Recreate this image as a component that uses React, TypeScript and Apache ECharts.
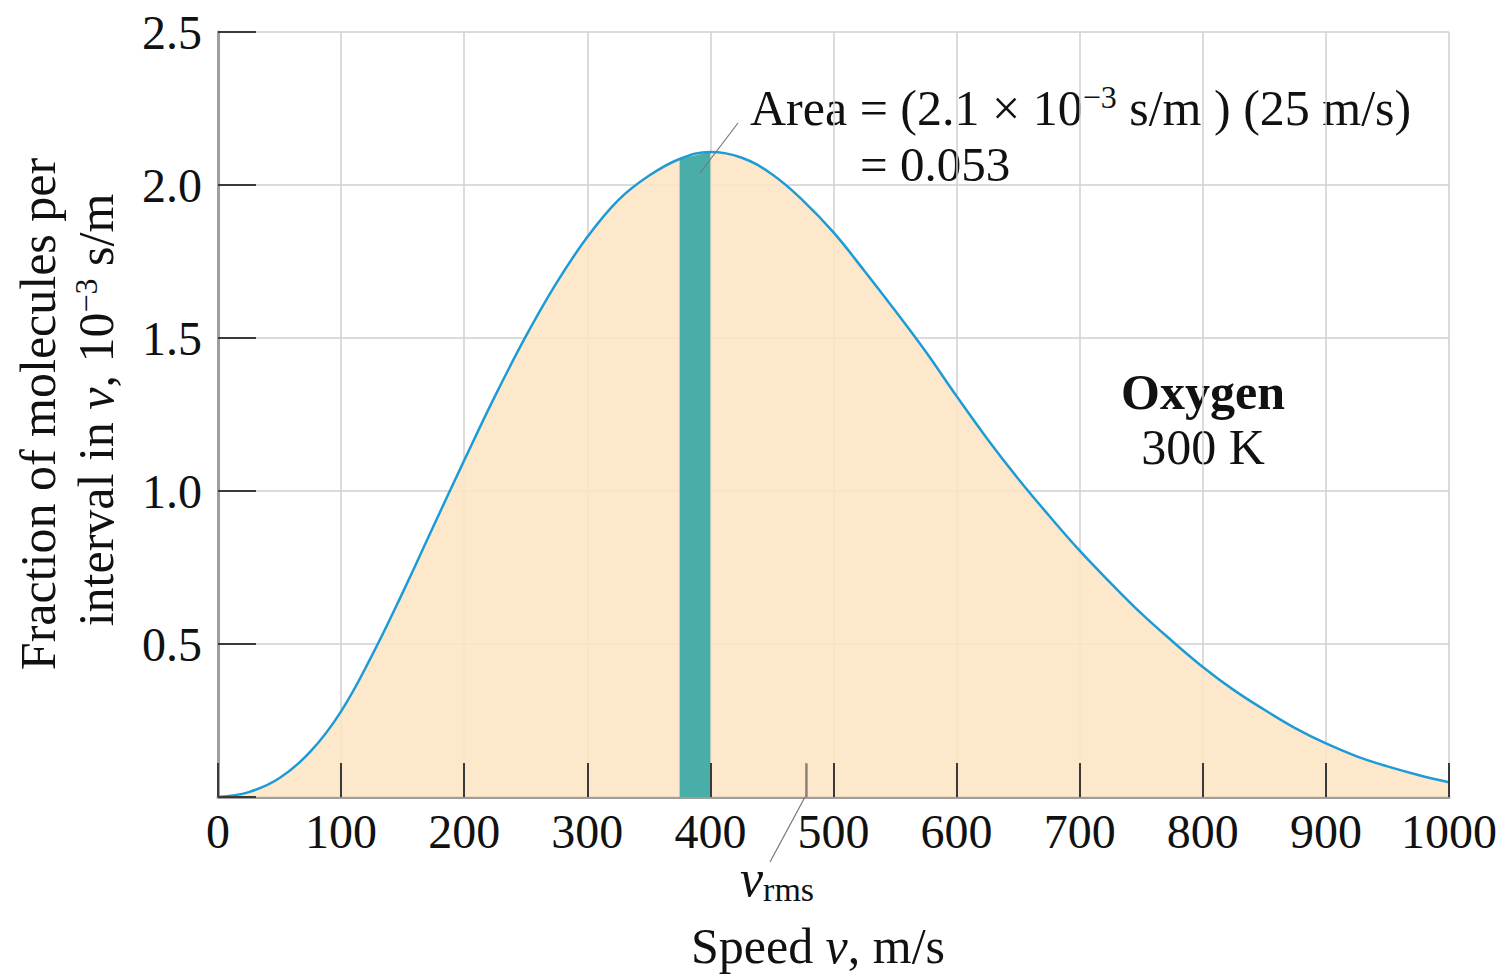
import React, { useEffect, useRef } from "react";
import * as echarts from "echarts";

const speeds = [
  0, 25, 50, 75, 100, 125, 150, 175, 200, 225, 250, 275, 300, 325, 350, 375, 400,
  425, 450, 475, 500, 525, 550, 575, 600, 625, 650, 675, 700, 725, 750, 775, 800,
  825, 850, 875, 900, 925, 950, 975, 1000,
];
const fraction = [
  0, 0.016, 0.062, 0.148, 0.28, 0.462, 0.668, 0.885, 1.1, 1.31, 1.505, 1.68, 1.83, 1.95,
  2.03, 2.085, 2.108, 2.09, 2.035, 1.95, 1.845, 1.72, 1.59, 1.455, 1.31, 1.17, 1.04,
  0.92, 0.805, 0.7, 0.6, 0.51, 0.425, 0.35, 0.285, 0.225, 0.175, 0.133, 0.1, 0.072,
  0.048,
];
const bandStart = 375;
const bandEnd = 400;
const vRms = 478;
const vRmsTickHeight = 0.11;

const FONT = '"Liberation Serif", "Times New Roman", serif';

export default function App() {
  const ref = useRef<HTMLDivElement>(null);

  useEffect(() => {
    if (!ref.current) return;
    const chart = echarts.init(ref.current, null, { renderer: "svg" });
    const curve = speeds.map((s, i) => [s, fraction[i]]);
    const band = curve.filter((p) => p[0] >= bandStart && p[0] <= bandEnd);

    const option: any = {
      animation: false,
      backgroundColor: "#ffffff",
      textStyle: { fontFamily: FONT },
      grid: { left: 218, right: 58, top: 32, bottom: 180, containLabel: false },
      xAxis: [
        {
          type: "value",
          min: 0,
          max: 1000,
          interval: 100,
          axisLine: { show: true, lineStyle: { color: "#9e9e9e", width: 3 } },
          axisTick: { show: false },
          axisLabel: {
            color: "#111",
            fontSize: 48,
            fontFamily: FONT,
            margin: 10,
            formatter: (v: number) => String(v),
          },
          splitLine: { show: true, lineStyle: { color: "#cfcfcf", width: 1.5 } },
        },
        {
          type: "value",
          min: 0,
          max: 1000,
          interval: 100,
          position: "bottom",
          z: 10,
          axisLine: { show: false },
          axisTick: { show: true, inside: true, length: 34, lineStyle: { color: "#3a3a3a", width: 2 } },
          axisLabel: { show: false },
          splitLine: { show: false },
        },
      ],
      yAxis: [
        {
          type: "value",
          min: 0,
          max: 2.5,
          interval: 0.5,
          axisLine: { show: true, lineStyle: { color: "#9e9e9e", width: 3 } },
          axisTick: { show: false },
          axisLabel: {
            color: "#111",
            fontSize: 48,
            fontFamily: FONT,
            margin: 16,
            formatter: (v: number) => (v === 0 ? "" : v.toFixed(1)),
          },
          splitLine: { show: true, lineStyle: { color: "#cfcfcf", width: 1.5 } },
        },
        {
          type: "value",
          min: 0,
          max: 2.5,
          interval: 0.5,
          position: "left",
          z: 10,
          axisLine: { show: false },
          axisTick: { show: true, inside: true, length: 38, lineStyle: { color: "#3a3a3a", width: 2 } },
          axisLabel: { show: false },
          splitLine: { show: false },
        },
      ],
      series: [
        {
          type: "line",
          data: curve,
          smooth: 0.4,
          showSymbol: false,
          lineStyle: { width: 0 },
          areaStyle: { color: "#fde5c5", opacity: 0.88 },
          z: 2,
        },
        {
          type: "line",
          data: band,
          smooth: false,
          showSymbol: false,
          lineStyle: { width: 0 },
          areaStyle: { color: "#49aea8", opacity: 1 },
          z: 3,
        },
        {
          type: "line",
          data: [
            [vRms, 0],
            [vRms, vRmsTickHeight],
          ],
          showSymbol: false,
          lineStyle: { color: "#8d807a", width: 2.5 },
          z: 4,
        },
        {
          type: "line",
          data: curve,
          smooth: 0.4,
          showSymbol: false,
          lineStyle: { color: "#1d9bd6", width: 2.5 },
          z: 5,
        },
      ],
      graphic: [
        {
          type: "text",
          x: 38,
          y: 414,
          rotation: Math.PI / 2,
          style: {
            text: "Fraction of molecules per",
            fontSize: 50,
            fontFamily: FONT,
            fill: "#111",
            textAlign: "center",
            textVerticalAlign: "middle",
          },
        },
        {
          type: "text",
          x: 96,
          y: 410,
          rotation: Math.PI / 2,
          style: {
            text: "interval in {i|v}, 10{sup|−3} s/m",
            fontSize: 50,
            fontFamily: FONT,
            fill: "#111",
            textAlign: "center",
            textVerticalAlign: "middle",
            rich: {
              i: { fontSize: 50, fontFamily: FONT, fontStyle: "italic", fill: "#111" },
              sup: { fontSize: 32, fontFamily: FONT, fill: "#111", padding: [0, 0, 20, 0] },
            },
          },
        },
        {
          type: "text",
          x: 818,
          y: 946,
          style: {
            text: "Speed {i|v}, m/s",
            fontSize: 50,
            fontFamily: FONT,
            fill: "#111",
            textAlign: "center",
            textVerticalAlign: "middle",
            rich: {
              i: { fontSize: 50, fontFamily: FONT, fontStyle: "italic", fill: "#111" },
            },
          },
        },
        {
          type: "text",
          x: 750,
          y: 108,
          style: {
            text: "Area = (2.1 × 10{sup|−3} s/m ) (25 m/s)",
            fontSize: 50,
            fontFamily: FONT,
            fill: "#111",
            textAlign: "left",
            textVerticalAlign: "middle",
            rich: {
              sup: { fontSize: 32, fontFamily: FONT, fill: "#111", padding: [0, 0, 22, 0] },
            },
          },
        },
        {
          type: "text",
          x: 860,
          y: 164,
          style: {
            text: "= 0.053",
            fontSize: 49,
            fontFamily: FONT,
            fill: "#111",
            textAlign: "left",
            textVerticalAlign: "middle",
          },
        },
        {
          type: "line",
          shape: { x1: 700, y1: 173, x2: 738, y2: 123 },
          style: { stroke: "#777", lineWidth: 1.2 },
          z: 10,
        },
        {
          type: "line",
          shape: { x1: 805, y1: 797, x2: 770, y2: 862 },
          style: { stroke: "#777", lineWidth: 1.2 },
          z: 10,
        },
        {
          type: "text",
          x: 740,
          y: 878,
          style: {
            text: "{i|v}{sub|rms}",
            fontSize: 50,
            fontFamily: FONT,
            fill: "#111",
            textAlign: "left",
            textVerticalAlign: "middle",
            rich: {
              i: { fontSize: 52, fontFamily: FONT, fontStyle: "italic", fill: "#111" },
              sub: { fontSize: 34, fontFamily: FONT, fill: "#111", padding: [22, 0, 0, 0] },
            },
          },
        },
        {
          type: "text",
          x: 1203,
          y: 392,
          style: {
            text: "Oxygen",
            fontSize: 50,
            fontWeight: "bold",
            fontFamily: FONT,
            fill: "#111",
            textAlign: "center",
            textVerticalAlign: "middle",
          },
        },
        {
          type: "text",
          x: 1203,
          y: 447,
          style: {
            text: "300 K",
            fontSize: 50,
            fontFamily: FONT,
            fill: "#111",
            textAlign: "center",
            textVerticalAlign: "middle",
          },
        },
      ],
    };

    chart.setOption(option);
    return () => chart.dispose();
  }, []);

  return (
    <div
      ref={ref}
      style={{ position: "fixed", left: 0, top: 0, width: 1507, height: 977, background: "#fff" }}
    />
  );
}
